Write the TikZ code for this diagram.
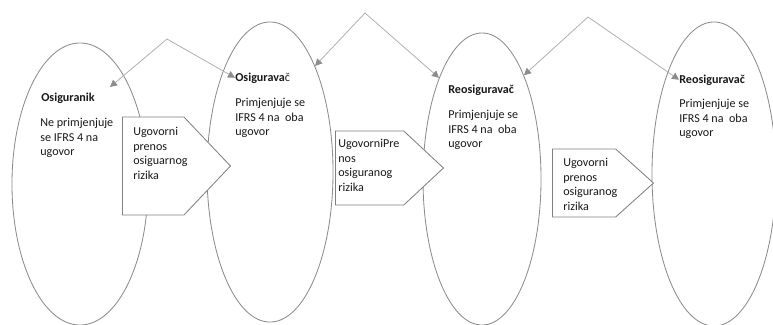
\documentclass[tikz,border=0pt]{standalone}
\usepackage{fontspec}
\setmainfont{Carlito}
\usepackage{xcolor}
\usetikzlibrary{positioning, arrows.meta, shapes.geometric, shapes.symbols}

\tikzset{
  party/.style={ellipse, draw=black!45, line width=0.6pt, inner sep=0pt},
  transfer/.style={signal, signal to=east, anchor=west, draw=black!50, fill=white, line width=0.6pt, inner sep=0pt},
  heading/.style={anchor=base west, inner sep=0pt, text=black!90, font=\bfseries\fontsize{8.6}{10.3}\selectfont},
  body/.style={anchor=north west, inner sep=0pt, align=left, text=black!90, font=\fontsize{8.6}{10.3}\selectfont},
  link/.style={draw=black!30, line width=0.6pt, -{Triangle[length=5pt, width=5pt, color=black!45]}}
}

\begin{document}
\begin{tikzpicture}[x=0.025cm, y=-0.025cm]

  \useasboundingbox (0,0) rectangle (773,324);

  % Parties
  \node[party, minimum width=3.4cm, minimum height=7.05cm] (osiguranik) at (80,184) {};
  \node[party, minimum width=3.15cm, minimum height=7.5cm] (osiguravac) at (270,172) {};
  \node[party, minimum width=2.95cm, minimum height=7.3cm] (reosig1) at (482,179) {};
  \node[party, minimum width=3.1cm, minimum height=7.6cm] (reosig2) at (714,174) {};

  % Transfers of risk
  \node[transfer, signal pointer angle=93, minimum width=2.7cm, minimum height=2.45cm] (prenos1) at (122,166) {};
  \node[transfer, signal pointer angle=86, minimum width=2.7cm, minimum height=1.85cm] (prenos2) at (335,168) {};
  \node[transfer, signal pointer angle=84, minimum width=2.525cm, minimum height=1.7cm] (prenos3) at (552,183) {};

  % Party labels
  \node[heading] (osiguranik-t) at (41,101) {Osiguranik};
  \node[body] (osiguranik-b) at (40,118) {Ne primjenjuje\\se IFRS 4 na\\ugovor};

  \node[heading] (osiguravac-t) at (235,81) {Osigurava{\mdseries č}};
  \node[body] (osiguravac-b) at (235,98) {Primjenjuje se\\IFRS 4 na~~oba\\ugovor};

  \node[heading] (reosig1-t) at (448,93) {Reosiguravač};
  \node[body] (reosig1-b) at (448,110) {Primjenjuje se\\IFRS 4 na~~oba\\ugovor};

  \node[heading] (reosig2-t) at (679,83) {Reosiguravač};
  \node[body] (reosig2-b) at (679,99) {Primjenjuje se\\IFRS 4 na~~oba\\ugovor};

  % Transfer labels
  \node[body] (prenos1-t) at (133,127) {Ugovorni\\prenos\\osiguarnog\\rizika};
  \node[body] (prenos2-t) at (338,139) {UgovorniPre\\nos\\osiguranog\\rizika};
  \node[body] (prenos3-t) at (563,158) {Ugovorni\\prenos\\osiguranog\\rizika};

  % Links
  \coordinate (apex1) at (167,39);
  \coordinate (apex2) at (365,13);
  \coordinate (apex3) at (588,17);
  \coordinate (hit1) at (110,87);

  \foreach \a/\b in {apex1/hit1, apex1/osiguravac-t.west, apex2/osiguravac.67,
                     apex2/reosig1.113, apex3/reosig1.68, apex3/reosig2-t.west}
    \draw[link] (\a) -- (\b);

\end{tikzpicture}
\end{document}
